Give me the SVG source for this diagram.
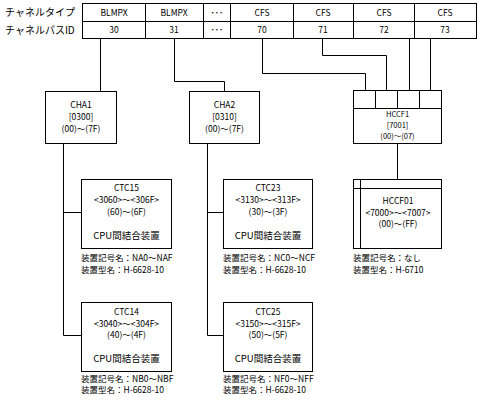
<svg xmlns="http://www.w3.org/2000/svg" width="479" height="402" viewBox="0 0 479 402">
<style>
text{font-family:"Noto Sans CJK JP","Noto Sans",sans-serif;fill:#000}
.t{font-size:8.5px;text-anchor:middle}
.h{font-size:10px}
.b{font-size:8.5px;text-anchor:middle}
.s{font-size:7.5px;text-anchor:middle}
.c{font-size:9.5px;text-anchor:middle}
.n{font-size:8.5px}
.box{fill:#fff;stroke:#000;stroke-width:1}
.ln{fill:none;stroke:#000;stroke-width:1}
</style>
<rect width="479" height="402" fill="#fff"/>
<g id="header">
<text class="h" x="5" y="16">チャネルタイプ</text>
<text class="h" x="5" y="34">チャネルパスID</text>
<rect class="box" x="82.5" y="3.5" width="394" height="35"/>
<path class="ln" d="M82.5 21.5H476.5M145.5 3.5V38.5M203.5 3.5V38.5M230.5 3.5V38.5M293.5 3.5V38.5M353.5 3.5V38.5M414.5 3.5V38.5"/>
<text class="t" x="114" y="15.5">BLMPX</text>
<text class="t" x="174" y="15.5">BLMPX</text>
<text class="t" x="217" y="15.5">･･･</text>
<text class="t" x="262" y="15.5">CFS</text>
<text class="t" x="323" y="15.5">CFS</text>
<text class="t" x="384" y="15.5">CFS</text>
<text class="t" x="445" y="15.5">CFS</text>
<text class="t" x="114" y="33">30</text>
<text class="t" x="174" y="33">31</text>
<text class="t" x="217" y="33">･･･</text>
<text class="t" x="262" y="33">70</text>
<text class="t" x="323" y="33">71</text>
<text class="t" x="384" y="33">72</text>
<text class="t" x="445" y="33">73</text>
</g>
<g id="connectors">
<path class="ln" d="M100.5 38.5V91.5"/>
<path class="ln" d="M174.5 38.5V81.5H224.5V91.5"/>
<path class="ln" d="M262.5 38.5V73.5H365.5V90.5"/>
<path class="ln" d="M322.5 38.5V55.5H386.5V90.5"/>
<path class="ln" d="M409.5 38.5V90.5"/>
<path class="ln" d="M430.5 38.5V90.5"/>
<path class="ln" d="M63.5 143.5V335.5H81.5M63.5 212.5H81.5"/>
<path class="ln" d="M207.5 143.5V335.5H223.5M207.5 212.5H223.5"/>
<path class="ln" d="M397.5 143.5V179.5"/>
</g>
<g id="CHA1">
<rect class="box" x="45.5" y="91.5" width="71" height="52"/>
<text class="b" x="81" y="108">CHA1</text>
<text class="b" x="81" y="119.5">[0300]</text>
<text class="b" x="81" y="132">(00)～(7F)</text>
</g>
<g id="CHA2">
<rect class="box" x="189.5" y="91.5" width="70" height="52"/>
<text class="b" x="224.5" y="108">CHA2</text>
<text class="b" x="224.5" y="119.5">[0310]</text>
<text class="b" x="224.5" y="132">(00)～(7F)</text>
</g>
<g id="HCCF1">
<rect class="box" x="353.5" y="90.5" width="88" height="53"/>
<path class="ln" d="M353.5 108.5H441.5M375.5 90.5V108.5M397.5 90.5V108.5M419.5 90.5V108.5"/>
<text class="s" x="397.5" y="116.5">HCCF1</text>
<text class="s" x="397.5" y="127.5">[7001]</text>
<text class="s" x="397.5" y="138.5">(00)～(07)</text>
</g>
<g id="CTC15">
<rect class="box" x="81.5" y="179.5" width="90" height="69"/>
<text class="b" x="126.5" y="191">CTC15</text>
<text class="b" x="126.5" y="203">&lt;3060&gt;～&lt;306F&gt;</text>
<text class="b" x="126.5" y="215">(60)～(6F)</text>
<text class="c" x="126.5" y="239">CPU間結合装置</text>
<text class="n" x="81" y="260.5">装置記号名：NA0～NAF</text>
<text class="n" x="81" y="272.5">装置型名：H-6628-10</text>
</g>
<g id="CTC23">
<rect class="box" x="223.5" y="179.5" width="89" height="69"/>
<text class="b" x="268" y="191">CTC23</text>
<text class="b" x="268" y="203">&lt;3130&gt;～&lt;313F&gt;</text>
<text class="b" x="268" y="215">(30)～(3F)</text>
<text class="c" x="268" y="239">CPU間結合装置</text>
<text class="n" x="223" y="260.5">装置記号名：NC0～NCF</text>
<text class="n" x="223" y="272.5">装置型名：H-6628-10</text>
</g>
<g id="HCCF01">
<rect class="box" x="353.5" y="179.5" width="88" height="69"/>
<path class="ln" d="M353.5 188.5H441.5M360.5 179.5V248.5"/>
<text class="b" x="398" y="204">HCCF01</text>
<text class="b" x="398" y="215.5">&lt;7000&gt;～&lt;7007&gt;</text>
<text class="b" x="398" y="227">(00)～(FF)</text>
<text class="n" x="353" y="260.5">装置記号名：なし</text>
<text class="n" x="353" y="272.5">装置型名：H-6710</text>
</g>
<g id="CTC14">
<rect class="box" x="81.5" y="302.5" width="90" height="69"/>
<text class="b" x="126.5" y="315">CTC14</text>
<text class="b" x="126.5" y="326.5">&lt;3040&gt;～&lt;304F&gt;</text>
<text class="b" x="126.5" y="338">(40)～(4F)</text>
<text class="c" x="126.5" y="362">CPU間結合装置</text>
<text class="n" x="81" y="381.5">装置記号名：NB0～NBF</text>
<text class="n" x="81" y="393">装置型名：H-6628-10</text>
</g>
<g id="CTC25">
<rect class="box" x="223.5" y="302.5" width="89" height="69"/>
<text class="b" x="268" y="315">CTC25</text>
<text class="b" x="268" y="326.5">&lt;3150&gt;～&lt;315F&gt;</text>
<text class="b" x="268" y="338">(50)～(5F)</text>
<text class="c" x="268" y="362">CPU間結合装置</text>
<text class="n" x="223" y="381.5">装置記号名：NF0～NFF</text>
<text class="n" x="223" y="393">装置型名：H-6628-10</text>
</g>
</svg>
